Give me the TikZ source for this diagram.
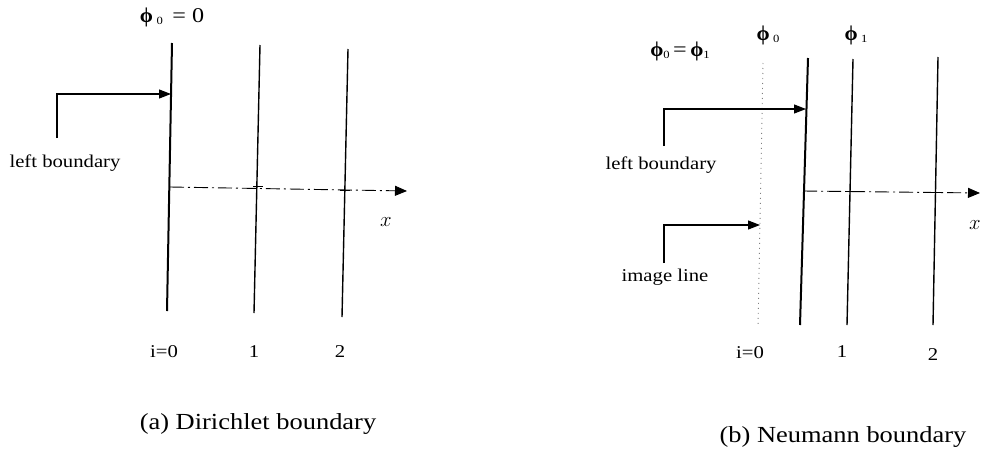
\documentclass[tikz,border=0pt]{standalone}
\usepackage{fontspec}
\setmainfont[FakeStretch=1.15]{Liberation Serif}
\newfontfamily\phifont{Liberation Serif}
\usetikzlibrary{arrows.meta}
\begin{document}
\begin{tikzpicture}[x=1pt,y=-1pt,
  lab/.style={font=\fontsize{18}{20}\selectfont, inner sep=0pt},
  captext/.style={font=\fontsize{23}{26}\selectfont, inner sep=0pt},
  phil/.style={font=\fontsize{21}{24}\selectfont, inner sep=0pt},
  bnd/.style={line width=2pt},
  gridline/.style={line width=1.4pt},
  imgl/.style={line width=0.9pt, dash pattern=on 1pt off 4pt, gray},
  axisline/.style={line width=0.9pt, dash pattern=on 14pt off 4pt on 2pt off 4pt, -{Triangle[length=12pt,width=10pt]}},
  pointer/.style={line width=1.1pt, -{Triangle[length=12pt,width=9pt]}},
  tickmark/.style={line width=0.9pt}]
\useasboundingbox (0,0) rectangle (981,458);
\newcommand{\myphi}{{\phifont\bfseries ϕ}}
\newcommand{\subnum}[1]{\raisebox{-0.3ex}{\fontsize{11}{12}\selectfont #1}}
% ---------- (a) Dirichlet ----------
\coordinate (a0t) at (172,43);  \coordinate (a0b) at (167,311);
\coordinate (a1t) at (260,45);  \coordinate (a1b) at (254,313);
\coordinate (a2t) at (348,49);  \coordinate (a2b) at (342,317);
\draw[bnd] (a0t) -- (a0b);
\draw[gridline] (a1t) -- (a1b);
\draw[gridline] (a2t) -- (a2b);
\coordinate (aax0) at (170,187);
\coordinate (aax1) at (407,191);
\draw[axisline] (aax0) -- (aax1);
\draw[tickmark] (253,186) -- (263,186);
\draw[tickmark] (340,190) -- (350,190);
\node[phil] (aphi) at (172,17) {\myphi\,\subnum{0}\,\ =\ 0};
\coordinate (alb) at (57,138);
\coordinate (aptr) at (171,94);
\draw[pointer] (alb) |- (aptr);
\node[lab] (alabel) at (65,163) {left boundary};
\node[font=\fontsize{22}{24}\selectfont, inner sep=0pt] (ax) at (386,222) {$x$};
\node[lab] (ai0) at (164,352) {i=0};
\node[lab] (ai1) at (254,352) {1};
\node[lab] (ai2) at (340,352) {2};
\node[captext] (acap) at (258,424) {(a) Dirichlet boundary};
% ---------- (b) Neumann ----------
\coordinate (bimt) at (763,63); \coordinate (bimb) at (758,327);
\draw[imgl] (bimt) -- (bimb);
\coordinate (b0t) at (808,58);  \coordinate (b0b) at (800,325);
\coordinate (b1t) at (853,59);  \coordinate (b1b) at (847,325);
\coordinate (b2t) at (938,57);  \coordinate (b2b) at (933,325);
\draw[bnd] (b0t) -- (b0b);
\draw[gridline] (b1t) -- (b1b);
\draw[gridline] (b2t) -- (b2b);
\coordinate (bax0) at (803,191);
\coordinate (bax1) at (980,193);
\draw[axisline] (bax0) -- (bax1);
\draw[tickmark] (846,191) -- (856,191);
\draw[tickmark] (931,192) -- (941,192);
\node[phil] (bphieq) at (680,51) {\myphi\subnum{0}\,=\,\myphi\subnum{1}};
\node[phil] (bphi0) at (768,35) {\myphi\,\subnum{0}};
\node[phil] (bphi1) at (856,35) {\myphi\,\subnum{1}};
\coordinate (blb) at (664,146);
\coordinate (bptr) at (806,109);
\draw[pointer] (blb) |- (bptr);
\node[lab] (blabel) at (661,165) {left boundary};
\coordinate (bil) at (664,263);
\coordinate (biptr) at (760,225);
\draw[pointer] (bil) |- (biptr);
\node[lab] (bimlabel) at (665,277) {image line};
\node[font=\fontsize{22}{24}\selectfont, inner sep=0pt] (bx) at (975,225) {$x$};
\node[lab] (bi0) at (750,353) {i=0};
\node[lab] (bi1) at (842,352) {1};
\node[lab] (bi2) at (933,355) {2};
\node[captext] (bcap) at (843,437) {(b) Neumann boundary};
\end{tikzpicture}
\end{document}
